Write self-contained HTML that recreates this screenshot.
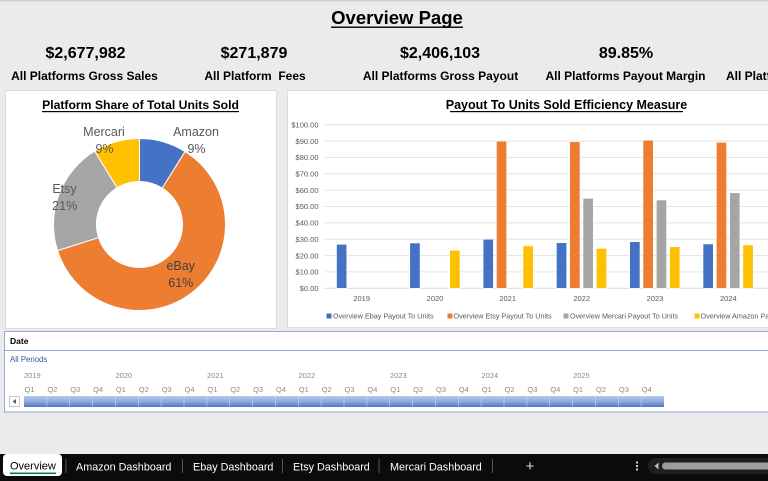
<!DOCTYPE html>
<html><head><meta charset="utf-8">
<style>
html,body{margin:0;padding:0;width:768px;height:481px;overflow:hidden;background:#ebebeb;}
svg{display:block;}
</style></head>
<body>
<svg width="768" height="481" viewBox="0 0 768 481" font-family="'Liberation Sans', Arial, sans-serif">
<rect width="768" height="481" fill="#ebebeb"/>
<rect x="0" y="0" width="768" height="1.5" fill="#d2d2d2"/>

<!-- Title -->
<text x="397" y="24" font-size="18.5" font-weight="bold" text-anchor="middle" fill="#000">Overview Page</text>
<rect x="331" y="26.5" width="132" height="1.4" fill="#000"/>

<!-- KPIs -->
<g font-weight="bold" fill="#000" text-anchor="middle">
<text x="85.5" y="58" font-size="16">$2,677,982</text>
<text x="254" y="58" font-size="16">$271,879</text>
<text x="440" y="58" font-size="16">$2,406,103</text>
<text x="626" y="58" font-size="16">89.85%</text>
<text x="84.5" y="80" font-size="12">All Platforms Gross Sales</text>
<text x="255" y="80" font-size="12" xml:space="preserve">All Platform  Fees</text>
<text x="440.5" y="80" font-size="12">All Platforms Gross Payout</text>
<text x="625.5" y="80" font-size="12">All Platforms Payout Margin</text>
</g>
<text x="726" y="80" font-size="12" font-weight="bold" fill="#000">All Platforms Units</text>

<!-- Panels -->
<rect x="5.5" y="90.5" width="271" height="238" fill="#fff" stroke="#dcdcdc"/>
<rect x="287.5" y="90.5" width="490" height="237" fill="#fff" stroke="#dcdcdc"/>

<!-- Donut chart -->
<text x="140.5" y="109" font-size="12.2" font-weight="bold" text-anchor="middle" fill="#000">Platform Share of Total Units Sold</text>
<rect x="42" y="111" width="197" height="1.2" fill="#000"/>
<g stroke="#fff" stroke-width="1">
<path d="M139.5,138.5 A86,86 0 0 1 185.07,151.57 L162.29,188.04 A43,43 0 0 0 139.5,181.5 Z" fill="#4472C4"/>
<path d="M185.07,151.57 A86,86 0 1 1 57.57,250.64 L98.53,237.57 A43,43 0 1 0 162.29,188.04 Z" fill="#ED7D31"/>
<path d="M57.57,250.64 A86,86 0 0 1 94.69,151.09 L117.10,187.80 A43,43 0 0 0 98.53,237.57 Z" fill="#A5A5A5"/>
<path d="M94.69,151.09 A86,86 0 0 1 139.5,138.5 L139.5,181.5 A43,43 0 0 0 117.10,187.80 Z" fill="#FFC000"/>
</g>
<g font-size="12.5" fill="#595959" text-anchor="middle">
<text x="104" y="136">Mercari</text>
<text x="104.5" y="153">9%</text>
<text x="196" y="136">Amazon</text>
<text x="196.5" y="153">9%</text>
<text x="64.5" y="193">Etsy</text>
<text x="64.7" y="210">21%</text>
<text x="180.7" y="270" fill="#404040">eBay</text>
<text x="180.8" y="287" fill="#404040">61%</text>
</g>

<!-- Bar chart -->
<text x="566.5" y="109" font-size="12.5" font-weight="bold" text-anchor="middle" fill="#000">Payout To Units Sold Efficiency Measure</text>
<rect x="450" y="111" width="233" height="1.2" fill="#000"/>
<g stroke="#e3e3e3" stroke-width="1">
<line x1="325" x2="768" y1="124.7" y2="124.7"/>
<line x1="325" x2="768" y1="141.1" y2="141.1"/>
<line x1="325" x2="768" y1="157.4" y2="157.4"/>
<line x1="325" x2="768" y1="173.8" y2="173.8"/>
<line x1="325" x2="768" y1="190.1" y2="190.1"/>
<line x1="325" x2="768" y1="206.5" y2="206.5"/>
<line x1="325" x2="768" y1="222.9" y2="222.9"/>
<line x1="325" x2="768" y1="239.2" y2="239.2"/>
<line x1="325" x2="768" y1="255.6" y2="255.6"/>
<line x1="325" x2="768" y1="271.9" y2="271.9"/>
<line x1="325" x2="768" y1="288.3" y2="288.3" stroke="#d9d9d9"/>
</g>
<g font-size="7.5" fill="#595959" text-anchor="end">
<text x="318.5" y="127.4">$100.00</text>
<text x="318.5" y="143.8">$90.00</text>
<text x="318.5" y="160.1">$80.00</text>
<text x="318.5" y="176.5">$70.00</text>
<text x="318.5" y="192.8">$60.00</text>
<text x="318.5" y="209.2">$50.00</text>
<text x="318.5" y="225.6">$40.00</text>
<text x="318.5" y="241.9">$30.00</text>
<text x="318.5" y="258.3">$20.00</text>
<text x="318.5" y="274.6">$10.00</text>
<text x="318.5" y="291">$0.00</text>
</g>
<g stroke="#fff" stroke-width="0.6">
<!-- 2019 -->
<rect x="336.5" y="244.3" width="10.3" height="44" fill="#4472C4"/>
<!-- 2020 -->
<rect x="409.8" y="243.0" width="10.3" height="45.3" fill="#4472C4"/>
<rect x="449.7" y="250.3" width="10.3" height="38" fill="#FFC000"/>
<!-- 2021 -->
<rect x="483.1" y="239.2" width="10.3" height="49.1" fill="#4472C4"/>
<rect x="496.4" y="141.1" width="10.3" height="147.2" fill="#ED7D31"/>
<rect x="523.0" y="245.9" width="10.3" height="42.4" fill="#FFC000"/>
<!-- 2022 -->
<rect x="556.4" y="242.7" width="10.3" height="45.6" fill="#4472C4"/>
<rect x="569.7" y="141.7" width="10.3" height="146.6" fill="#ED7D31"/>
<rect x="583.0" y="198.3" width="10.3" height="90" fill="#A5A5A5"/>
<rect x="596.3" y="248.4" width="10.3" height="39.9" fill="#FFC000"/>
<!-- 2023 -->
<rect x="629.7" y="241.7" width="10.3" height="46.6" fill="#4472C4"/>
<rect x="643.0" y="140.2" width="10.3" height="148.1" fill="#ED7D31"/>
<rect x="656.3" y="200.0" width="10.3" height="88.3" fill="#A5A5A5"/>
<rect x="669.6" y="246.7" width="10.3" height="41.6" fill="#FFC000"/>
<!-- 2024 -->
<rect x="703.0" y="244.0" width="10.3" height="44.3" fill="#4472C4"/>
<rect x="716.3" y="142.4" width="10.3" height="145.9" fill="#ED7D31"/>
<rect x="729.6" y="192.8" width="10.3" height="95.5" fill="#A5A5A5"/>
<rect x="742.9" y="244.9" width="10.3" height="43.4" fill="#FFC000"/>
</g>
<g font-size="7.5" fill="#595959" text-anchor="middle">
<text x="361.7" y="301">2019</text>
<text x="435" y="301">2020</text>
<text x="507.7" y="301">2021</text>
<text x="581.7" y="301">2022</text>
<text x="655" y="301">2023</text>
<text x="728.3" y="301">2024</text>
</g>
<rect x="326.5" y="313.5" width="5" height="5" fill="#4472C4"/>
<rect x="447.5" y="313.5" width="5" height="5" fill="#ED7D31"/>
<rect x="563.5" y="313.5" width="5" height="5" fill="#A5A5A5"/>
<rect x="694.5" y="313.5" width="5" height="5" fill="#FFC000"/>
<g font-size="7.2" fill="#595959">
<text x="333" y="318.7">Overview Ebay Payout To Units</text>
<text x="453.5" y="318.7">Overview Etsy Payout To Units</text>
<text x="570" y="318.7">Overview Mercari Payout To Units</text>
<text x="700.5" y="318.7">Overview Amazon Payout To Units</text>
</g>

<!-- Slicer -->
<rect x="4.5" y="331.5" width="775" height="80.5" fill="#fff" stroke="#8faadc"/>
<line x1="5" x2="768" y1="350.5" y2="350.5" stroke="#8faadc"/>
<text x="10" y="344" font-size="8.5" font-weight="bold" fill="#000">Date</text>
<text x="10" y="362" font-size="7.8" fill="#2e5c9e">All Periods</text>
<g font-size="7.5" fill="#8a8a8a">
<text x="24" y="378">2019</text>
<text x="115.5" y="378">2020</text>
<text x="207" y="378">2021</text>
<text x="298.5" y="378">2022</text>
<text x="390" y="378">2023</text>
<text x="481.5" y="378">2024</text>
<text x="573" y="378">2025</text>
</g>
<g font-size="7.5" fill="#8a8a8a">
<text x="24.5" y="392">Q1</text><text x="47.4" y="392">Q2</text><text x="70.2" y="392">Q3</text><text x="93.1" y="392">Q4</text>
<text x="115.9" y="392">Q1</text><text x="138.8" y="392">Q2</text><text x="161.7" y="392">Q3</text><text x="184.5" y="392">Q4</text>
<text x="207.4" y="392">Q1</text><text x="230.2" y="392">Q2</text><text x="253.1" y="392">Q3</text><text x="276" y="392">Q4</text>
<text x="298.8" y="392">Q1</text><text x="321.7" y="392">Q2</text><text x="344.5" y="392">Q3</text><text x="367.4" y="392">Q4</text>
<text x="390.3" y="392">Q1</text><text x="413.1" y="392">Q2</text><text x="436" y="392">Q3</text><text x="458.8" y="392">Q4</text>
<text x="481.7" y="392">Q1</text><text x="504.6" y="392">Q2</text><text x="527.4" y="392">Q3</text><text x="550.3" y="392">Q4</text>
<text x="573.1" y="392">Q1</text><text x="596" y="392">Q2</text><text x="618.9" y="392">Q3</text><text x="641.7" y="392">Q4</text>
</g>
<defs>
<linearGradient id="sg" x1="0" y1="0" x2="0" y2="1">
<stop offset="0" stop-color="#b7c9ec"/>
<stop offset="0.5" stop-color="#8eaae0"/>
<stop offset="1" stop-color="#4f77c4"/>
</linearGradient>
</defs>
<rect x="24" y="396" width="640" height="11" fill="url(#sg)"/>
<g stroke="#c9d6f0" stroke-width="0.6">
<line x1="46.9" x2="46.9" y1="396" y2="407"/><line x1="69.7" x2="69.7" y1="396" y2="407"/><line x1="92.6" x2="92.6" y1="396" y2="407"/><line x1="115.4" x2="115.4" y1="396" y2="407"/>
<line x1="138.3" x2="138.3" y1="396" y2="407"/><line x1="161.1" x2="161.1" y1="396" y2="407"/><line x1="184" x2="184" y1="396" y2="407"/><line x1="206.9" x2="206.9" y1="396" y2="407"/>
<line x1="229.7" x2="229.7" y1="396" y2="407"/><line x1="252.6" x2="252.6" y1="396" y2="407"/><line x1="275.4" x2="275.4" y1="396" y2="407"/><line x1="298.3" x2="298.3" y1="396" y2="407"/>
<line x1="321.1" x2="321.1" y1="396" y2="407"/><line x1="344" x2="344" y1="396" y2="407"/><line x1="366.9" x2="366.9" y1="396" y2="407"/><line x1="389.7" x2="389.7" y1="396" y2="407"/>
<line x1="412.6" x2="412.6" y1="396" y2="407"/><line x1="435.4" x2="435.4" y1="396" y2="407"/><line x1="458.3" x2="458.3" y1="396" y2="407"/><line x1="481.1" x2="481.1" y1="396" y2="407"/>
<line x1="504" x2="504" y1="396" y2="407"/><line x1="526.9" x2="526.9" y1="396" y2="407"/><line x1="549.7" x2="549.7" y1="396" y2="407"/><line x1="572.6" x2="572.6" y1="396" y2="407"/>
<line x1="595.4" x2="595.4" y1="396" y2="407"/><line x1="618.3" x2="618.3" y1="396" y2="407"/><line x1="641.1" x2="641.1" y1="396" y2="407"/>
</g>
<rect x="9.5" y="396.5" width="10" height="10" fill="#fff" stroke="#c8c8c8"/>
<path d="M16,399 L12.5,401.5 L16,404 Z" fill="#606060"/>

<!-- Tab bar -->
<rect x="0" y="454" width="768" height="27" fill="#0b0b0b"/>
<rect x="3" y="454" width="59" height="22" rx="4" fill="#fff"/>
<text x="10" y="469.5" font-size="11" fill="#000">Overview</text>
<rect x="10" y="472.5" width="46" height="1.6" fill="#107c41"/>
<g stroke="#555" stroke-width="1">
<line x1="66" x2="66" y1="459" y2="473"/>
<line x1="182.5" x2="182.5" y1="459" y2="473"/>
<line x1="282.5" x2="282.5" y1="459" y2="473"/>
<line x1="379" x2="379" y1="459" y2="473"/>
<line x1="492.5" x2="492.5" y1="459" y2="473"/>
</g>
<g font-size="10.8" fill="#fff">
<text x="76" y="470.5">Amazon Dashboard</text>
<text x="193" y="470.5">Ebay Dashboard</text>
<text x="293" y="470.5">Etsy Dashboard</text>
<text x="390" y="470.5">Mercari Dashboard</text>
</g>
<text x="530" y="471" font-size="15" fill="#ddd" text-anchor="middle">+</text>
<g fill="#cfcfcf">
<rect x="636" y="461.5" width="2" height="2"/>
<rect x="636" y="465" width="2" height="2"/>
<rect x="636" y="468.5" width="2" height="2"/>
</g>
<rect x="648" y="458" width="130" height="16" rx="8" fill="#1f1f1f"/>
<path d="M658.5,462.5 L654.5,466 L658.5,469.5 Z" fill="#bdbdbd"/>
<rect x="662" y="462.5" width="110" height="7" rx="3.5" fill="#9d9d9d"/>
</svg>
</body></html>
